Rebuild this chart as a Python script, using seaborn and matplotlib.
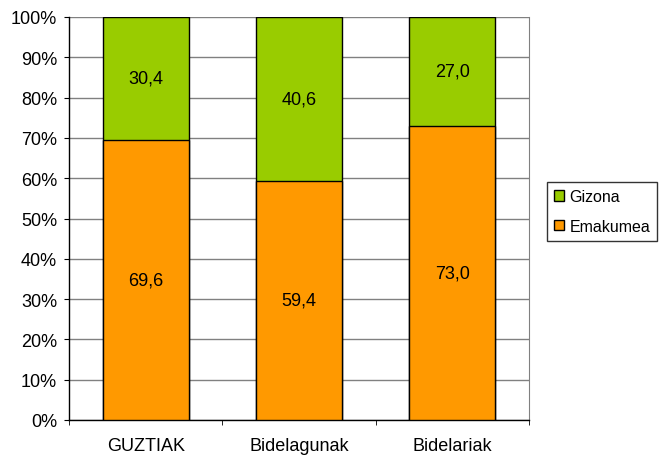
import matplotlib
matplotlib.use("Agg")
import matplotlib.pyplot as plt
import seaborn as sns
import pandas as pd
from matplotlib.patches import Patch
from matplotlib.ticker import FixedLocator, PercentFormatter

# data
categories = ["GUZTIAK", "Bidelagunak", "Bidelariak"]
emakumea = [69.6, 59.4, 73.0]
gizona = [30.4, 40.6, 27.0]

GREEN = "#99CC00"
ORANGE = "#FF9900"

sns.set_style("white")
plt.rcParams["font.family"] = ["Liberation Sans", "DejaVu Sans"]
plt.rcParams["text.color"] = "black"
plt.rcParams["xtick.labelcolor"] = "black"
plt.rcParams["ytick.labelcolor"] = "black"

df = pd.DataFrame({"cat": categories, "Emakumea": emakumea, "Gizona": gizona})
df["total"] = df["Emakumea"] + df["Gizona"]

fig = plt.figure(figsize=(6.61, 4.56), dpi=100)
ax = fig.add_axes([69 / 661, 1 - 421 / 456, (529 - 69) / 661, (421 - 18) / 456])

# green = full stack, orange drawn in front of it
sns.barplot(data=df, x="cat", y="total", color=GREEN, width=0.56,
            edgecolor="black", linewidth=1, saturation=1, ax=ax, zorder=2)
sns.barplot(data=df, x="cat", y="Emakumea", color=ORANGE, width=0.56,
            edgecolor="black", linewidth=1, saturation=1, ax=ax, zorder=3)

for i, (e, g) in enumerate(zip(emakumea, gizona)):
    ax.text(i, e / 2, f"{e:.1f}".replace(".", ","), ha="center", va="center",
            fontsize=13, color="black", zorder=4)
    ax.text(i, e + g / 2, f"{g:.1f}".replace(".", ","), ha="center", va="center",
            fontsize=13, color="black", zorder=4)

ax.set_ylim(0, 100)
ax.set_xlim(-0.5, 2.5)
ax.yaxis.set_major_locator(FixedLocator(range(0, 101, 10)))
ax.yaxis.set_major_formatter(PercentFormatter(decimals=0))
ax.yaxis.grid(True, color="#808080", linewidth=1, zorder=0)
ax.set_axisbelow(True)
ax.set_xlabel("")
ax.set_ylabel("")

ax.xaxis.set_minor_locator(FixedLocator([-0.5, 0.5, 1.5, 2.5]))
ax.tick_params(axis="x", which="major", length=0, pad=12, labelsize=13)
ax.tick_params(axis="x", which="minor", length=3.5, direction="out",
               color="black", bottom=True)
ax.tick_params(axis="y", length=3.5, direction="out", color="black",
               labelsize=13, pad=5, left=True)

for side in ["left", "bottom"]:
    ax.spines[side].set_color("black")
    ax.spines[side].set_linewidth(1)
ax.spines["right"].set_color("#808080")
ax.spines["top"].set_visible(False)

handles = [Patch(facecolor=GREEN, edgecolor="black", label="Gizona"),
           Patch(facecolor=ORANGE, edgecolor="black", label="Emakumea")]
leg = fig.legend(handles=handles, loc="upper left",
                 bbox_to_anchor=(547 / 661, 1 - 183 / 456),
                 frameon=True, fancybox=False, edgecolor="black",
                 fontsize=11.5, handlelength=0.6, handleheight=0.6,
                 handletextpad=0.35, borderpad=0.45, labelspacing=0.9,
                 borderaxespad=0)
leg.get_frame().set_linewidth(1)

fig.savefig("out.png", dpi=100)
